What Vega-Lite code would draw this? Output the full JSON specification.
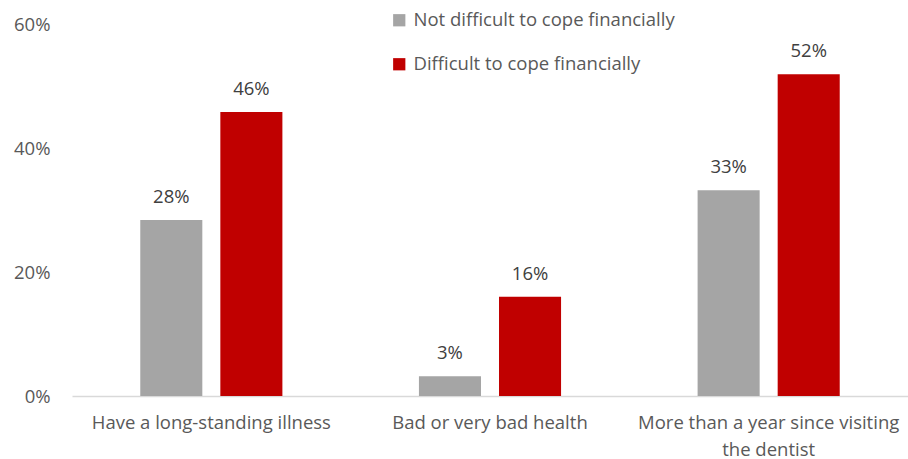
{
  "$schema": "https://vega.github.io/schema/vega-lite/v6.json",
  "autosize": {"type": "none"},
  "padding": {"left": 72, "top": 24, "right": 0, "bottom": 63},
  "width": 836,
  "height": 372,
  "background": "white",
  "config": {
    "view": {"stroke": null},
    "font": "Open Sans",
    "text": {"font": "Open Sans"}
  },
  "data": {
    "values": [
      {"category": "Have a long-standing illness", "group": "Not difficult to cope financially", "value": 0.284},
      {"category": "Have a long-standing illness", "group": "Difficult to cope financially", "value": 0.458},
      {"category": "Bad or very bad health", "group": "Not difficult to cope financially", "value": 0.032},
      {"category": "Bad or very bad health", "group": "Difficult to cope financially", "value": 0.16},
      {"category": "More than a year since visiting the dentist", "group": "Not difficult to cope financially", "value": 0.332},
      {"category": "More than a year since visiting the dentist", "group": "Difficult to cope financially", "value": 0.519}
    ]
  },
  "encoding": {
    "x": {
      "field": "category",
      "type": "nominal",
      "sort": null,
      "scale": {"paddingInner": 0.49, "paddingOuter": 0.245},
      "axis": {
        "title": null,
        "labelAngle": 0,
        "ticks": false,
        "domainColor": "#d9d9d9",
        "domainWidth": 1.5,
        "labelColor": "#595959",
        "labelFontSize": 18.5,
        "labelPadding": 17,
        "labelLineHeight": 27,
        "labelLimit": 400,
        "labelExpr": "datum.label == 'More than a year since visiting the dentist' ? ['More than a year since visiting', 'the dentist'] : datum.label"
      }
    },
    "xOffset": {
      "field": "group",
      "type": "nominal",
      "sort": ["Not difficult to cope financially", "Difficult to cope financially"],
      "scale": {"paddingInner": 0.225, "paddingOuter": 0}
    },
    "y": {
      "field": "value",
      "type": "quantitative",
      "scale": {"domain": [0, 0.6]},
      "axis": {
        "title": null,
        "format": ".0%",
        "values": [0, 0.2, 0.4, 0.6],
        "domain": false,
        "ticks": false,
        "grid": false,
        "labelColor": "#595959",
        "labelFontSize": 18.5,
        "labelPadding": 22
      }
    }
  },
  "layer": [
    {
      "mark": {"type": "bar"},
      "encoding": {
        "color": {
          "field": "group",
          "type": "nominal",
          "sort": ["Not difficult to cope financially", "Difficult to cope financially"],
          "scale": {"domain": ["Not difficult to cope financially", "Difficult to cope financially"], "range": ["#a5a5a5", "#c00000"]},
          "legend": {
            "title": null,
            "orient": "none",
            "legendX": 318,
            "legendY": -13,
            "symbolType": "square",
            "symbolSize": 150,
            "symbolStrokeWidth": 0,
            "labelFontSize": 18.5,
            "labelColor": "#595959",
            "labelLimit": 500,
            "rowPadding": 25,
            "labelOffset": 5
          }
        }
      }
    },
    {
      "mark": {"type": "text", "dy": -23, "fontSize": 18.5, "color": "#404040"},
      "encoding": {
        "text": {"field": "value", "type": "quantitative", "format": ".0%"}
      }
    }
  ]
}
